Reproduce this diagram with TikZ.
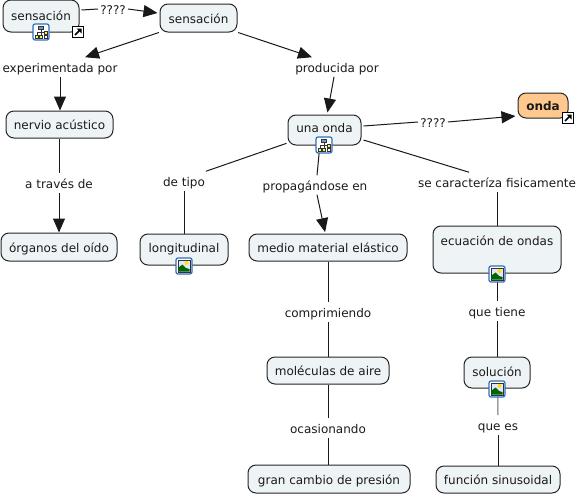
\documentclass[tikz,border=0pt]{standalone}
\usepackage{fontspec}
\setmainfont{DejaVu Sans}
\usetikzlibrary{arrows.meta}
\definecolor{boxfill}{HTML}{EEF3F6}
\definecolor{ondafill}{HTML}{FFC88F}
\definecolor{iconblue}{HTML}{2F6FC0}
\definecolor{txt}{HTML}{1A1A1A}
\tikzset{
  x=0.75pt,y=-0.75pt,
  labelfont/.style={font=\fontsize{9pt}{11pt}\selectfont,text=txt},
  concept/.style n args={2}{draw=black!85,fill=boxfill,line width=0.75pt,rounded corners=6pt,
    minimum width=#1*0.75pt,minimum height=#2*0.75pt,inner sep=0pt,labelfont,text height=8pt,text depth=0pt},
  hot/.style={fill=ondafill,font=\fontsize{9pt}{11pt}\selectfont\bfseries},
  boxtext/.style={labelfont,inner sep=0pt,text height=8pt,text depth=0pt},
  linklabel/.style={inner xsep=1.5pt,inner ysep=0pt,minimum height=19*0.75pt,labelfont,text height=8pt,text depth=0pt},
  conn/.style={line width=0.75pt,black!90},
  arr/.style={conn,-{Triangle[length=10.5pt,width=9pt]}},
  pics/imgicon/.style={code={
    \draw[iconblue,fill=white,line width=0.9pt,rounded corners=1.5pt] (-8,-8) rectangle (8,8);
    \draw[black!80,fill=white,line width=0.5pt] (-6,-6) rectangle (6,6);
    \fill[blue!10] (-5.5,-5.5) rectangle (5.5,5.5);
    \fill[yellow!85!orange] (2.5,-3) circle (2);
    \fill[green!40!black] (-5.5,5.5) -- (-5.5,1.5) -- (-1.5,-1.5) -- (2,2) -- (5.5,3) -- (5.5,5.5) -- cycle;
  }},
  pics/mapicon/.style={code={
    \draw[iconblue,fill=white,line width=0.9pt,rounded corners=1.5pt] (-8,-8) rectangle (8,8);
    \draw[black!80,line width=0.5pt] (0,-3) -- (0,4) (-4,0) -- (4,0) (-4,0) -- (-4,3) (4,0) -- (4,3);
    \draw[black!80,fill=iconblue!70,line width=0.4pt] (-2.5,-6) rectangle (2.5,-3);
    \draw[black!80,fill=yellow!70,line width=0.4pt] (-6,3) rectangle (-3,6);
    \draw[black!80,fill=yellow!70,line width=0.4pt] (-1.5,3) rectangle (1.5,6);
    \draw[black!80,fill=yellow!70,line width=0.4pt] (3,-1) rectangle (6,2);
    \draw[black!80,fill=white,line width=0.4pt] (3,3) rectangle (6,6);
  }},
  pics/linkicon/.style={code={
    \draw[black,fill=white,line width=0.7pt] (-5.5,-5.5) rectangle (5.5,5.5);
    \draw[black,line width=1.1pt] (-3,3) -- (1.5,-1.5);
    \fill[black] (-1.5,-3.5) -- (3.5,-3.5) -- (3.5,1.5) -- cycle;
  }},
}
\begin{document}
\begin{tikzpicture}
\useasboundingbox (0,0) rectangle (578,496);
% concepts
\node[concept={76}{32}] (s1) at (41,16) {};
\node[boxtext] at (41,15.5) {sensación};
\node[concept={77}{28}] (s2) at (198.5,18) {sensación};
\node[concept={107}{27}] (nervio) at (59.5,124.5) {nervio acústico};
\node[concept={116}{28}] (organos) at (59,247) {órganos del oído};
\node[concept={73}{30}] (unaonda) at (324.5,130) {};
\node[boxtext] at (324.5,127.4) {una onda};
\node[concept={50}{25},hot] (onda) at (543,105.5) {onda};
\node[concept={88}{31}] (longi) at (184,249.5) {};
\node[boxtext] at (184,247) {longitudinal};
\node[concept={158}{27}] (medio) at (328,247.5) {medio material elástico};
\node[concept={128}{47}] (ecuacion) at (497,249.5) {};
\node[boxtext] at (497,239.7) {ecuación de ondas};
\node[concept={122}{27}] (molec) at (328,370.5) {moléculas de aire};
\node[concept={66}{31}] (solucion) at (497,372.5) {};
\node[boxtext] at (497,370.7) {solución};
\node[concept={162}{28}] (gran) at (329,479) {gran cambio de presión};
\node[concept={124}{27}] (funcion) at (498,479.5) {función sinusoidal};
% link labels
\node[linklabel] (l1) at (113,9) {????};
\node[linklabel] (l2) at (60,67) {experimentada por};
\node[linklabel] (l3) at (59,183) {a través de};
\node[linklabel] (l4) at (337,67) {producida por};
\node[linklabel] (l5) at (433,122) {????};
\node[linklabel] (l6) at (184,181) {de tipo};
\node[linklabel] (l7) at (315,185) {propagándose en};
\node[linklabel] (l8) at (497,182) {se caracteríza fisicamente};
\node[linklabel] (l9) at (328,312) {comprimiendo};
\node[linklabel] (l10) at (328,428) {ocasionando};
\node[linklabel] (l11) at (497,311) {que tiene};
\node[linklabel] (l12) at (498,425) {que es};
% connectors
\draw[conn] ([xshift=1.5pt,yshift=4.5pt]s1.east) -- (l1.west);
\draw[arr] (l1.east) -- ([xshift=-1.5pt,yshift=3.75pt]s2.west);
\draw[arr] ([xshift=-0.5pt,yshift=0pt]s2.south west) -- ([xshift=18.75pt]l2.north);
\draw[arr] (l2.south) -- (nervio.north -| l2.south);
\draw[conn] (nervio.south) -- (l3.north -| nervio.south);
\draw[arr] (l3.south) -- (organos.north);
\draw[arr] ([xshift=0.5pt,yshift=0pt]s2.south east) -- ([xshift=-18.75pt]l4.north);
\draw[arr] ([xshift=-2.2pt]l4.south) -- ([xshift=2.2pt,yshift=1.5pt]unaonda.north);
\draw[conn] ([xshift=1.5pt,yshift=3pt]unaonda.east) -- (l5.west);
\draw[arr] (l5.east) -- ([xshift=-1.5pt,yshift=-7.9pt]onda.west);
\draw[conn] ([xshift=1.5pt,yshift=-7.5pt]unaonda.east) -- ([xshift=-21pt]l8.north);
\draw[conn] (l8.south) -- (ecuacion.north);
\draw[conn] ([xshift=-0.75pt,yshift=-10pt]unaonda.west) -- ([xshift=16.5pt]l6.north);
\draw[conn] (l6.south) -- (longi.north);
\draw[conn] ([xshift=-3.5pt]unaonda.south) -- ([xshift=1.5pt]l7.north);
\draw[arr] ([xshift=1.5pt]l7.south) -- ([xshift=-2.2pt,yshift=1pt]medio.north);
\draw[conn] (medio.south) -- (l9.north);
\draw[conn] (l9.south) -- (molec.north);
\draw[conn] (molec.south) -- (l10.north);
\draw[conn] (l10.south) -- (gran.north -| l10.south);
\draw[conn] (ecuacion.south) -- (l11.north);
\draw[conn] (l11.south) -- (solucion.north);
\draw[conn,black!60] ([xshift=0.5pt]solucion.south) -- (l12.north);
\draw[conn] (l12.south) -- (funcion.north);
% icons
\pic at (41,32) {mapicon};
\pic at (78,32) {linkicon};
\pic at (324,145) {mapicon};
\pic at (568,118) {linkicon};
\pic at (184,266) {imgicon};
\pic at (497,274) {imgicon};
\pic at (497,389) {imgicon};
\end{tikzpicture}
\end{document}
